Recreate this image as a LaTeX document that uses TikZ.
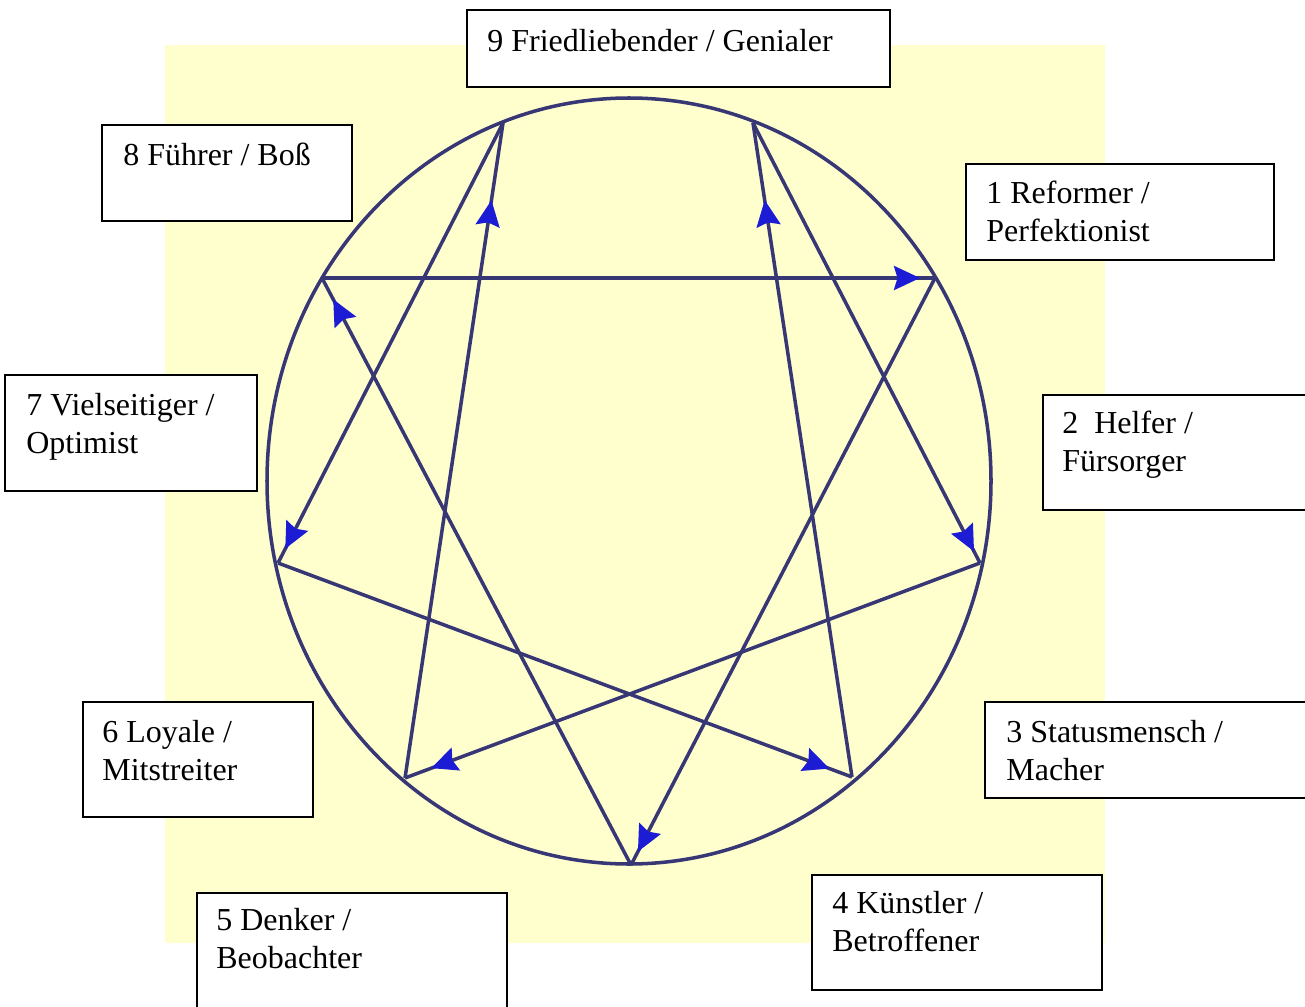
\documentclass[tikz,border=0pt]{standalone}
\usepackage{xcolor}
\usepackage{fontspec}
\setmainfont{Liberation Serif}
\usepackage{tikz}
\usetikzlibrary{arrows.meta, decorations.markings, fit}

\definecolor{hintergrund}{RGB}{255,255,206}
\definecolor{liniengrau}{RGB}{55,55,118}
\definecolor{pfeilblau}{RGB}{28,28,212}

\begin{document}
\begin{tikzpicture}[x=0.02cm, y=-0.02cm,
		verbindung/.style={draw=liniengrau, line width=2pt},
		pfeilbei/.style={postaction={decorate, decoration={markings,
			mark=at position #1 with {\arrow[pfeilblau]{Stealth[length=0.52cm, width=0.48cm, inset=0.07cm]}}}}},
		kasten/.style={draw=black, fill=white, line width=1.1pt, inner sep=0pt},
		beschriftung/.style={anchor=north west, inner sep=0pt, align=left, font=\fontsize{18.2pt}{21.6pt}\selectfont}]
				\useasboundingbox (0,0) rectangle (1305,1007);
				\fill[hintergrund] (165,45) rectangle (1105,943);
				\draw[verbindung] (629,481) ellipse [x radius=362, y radius=383];
				\coordinate (p9l) at (503,123);
				\coordinate (p9r) at (753,123);
				\coordinate (p1) at (935,278);
				\coordinate (p2) at (980,563);
				\coordinate (p3) at (852,777);
				\coordinate (p5) at (631,865);
				\coordinate (p6) at (405,778);
				\coordinate (p7) at (278,563);
				\coordinate (p8) at (322,278);
				\draw[verbindung, pfeilbei=-0.3cm] (p8) -- (p1);
				\draw[verbindung, pfeilbei=-0.3cm] (p1) -- (p5);
				\draw[verbindung, pfeilbei=-0.48cm] (p5) -- (p8);
				\draw[verbindung, pfeilbei=-0.32cm] (p9l) -- (p7);
				\draw[verbindung, pfeilbei=-1.56cm] (p6) -- (p9l);
				\draw[verbindung, pfeilbei=-0.26cm] (p9r) -- (p2);
				\draw[verbindung, pfeilbei=-1.56cm] (p3) -- (p9r);
				\draw[verbindung, pfeilbei=-0.48cm] (p7) -- (p3);
				\draw[verbindung, pfeilbei=-0.56cm] (p2) -- (p6);
				\node[kasten, fit={(467,10) (890,87)}] (k9) {};
				\node[kasten, fit={(102,125) (352,221)}] (k8) {};
				\node[kasten, fit={(966,164) (1274,260)}] (k1) {};
				\node[kasten, fit={(5,375) (257,491)}] (k7) {};
				\node[kasten, fit={(1043,395) (1340,510)}] (k2) {};
				\node[kasten, fit={(83,702) (313,817)}] (k6) {};
				\node[kasten, fit={(985,702) (1340,798)}] (k3) {};
				\node[kasten, fit={(197,893) (507,1040)}] (k5) {};
				\node[kasten, fit={(812,875) (1102,990)}] (k4) {};
				\node[beschriftung] (t9) at ([shift={(21,20)}]k9.north west) {9 Friedliebender / Genialer};
				\node[beschriftung] (t8) at ([shift={(22,19)}]k8.north west) {8 Führer / Boß};
				\node[beschriftung] (t1) at ([shift={(21,18)}]k1.north west) {1 Reformer /\\Perfektionist};
				\node[beschriftung] (t7) at ([shift={(22,19)}]k7.north west) {7 Vielseitiger /\\Optimist};
				\node[beschriftung] (t2) at ([shift={(20,17)}]k2.north west) {2\ \ Helfer /\\Fürsorger};
				\node[beschriftung] (t6) at ([shift={(20,19)}]k6.north west) {6 Loyale /\\Mitstreiter};
				\node[beschriftung] (t3) at ([shift={(22,19)}]k3.north west) {3 Statusmensch /\\Macher};
				\node[beschriftung] (t5) at ([shift={(20,16)}]k5.north west) {5 Denker /\\Beobachter};
				\node[beschriftung] (t4) at ([shift={(21,17)}]k4.north west) {4 Künstler /\\Betroffener};
			\end{tikzpicture}
\end{document}
